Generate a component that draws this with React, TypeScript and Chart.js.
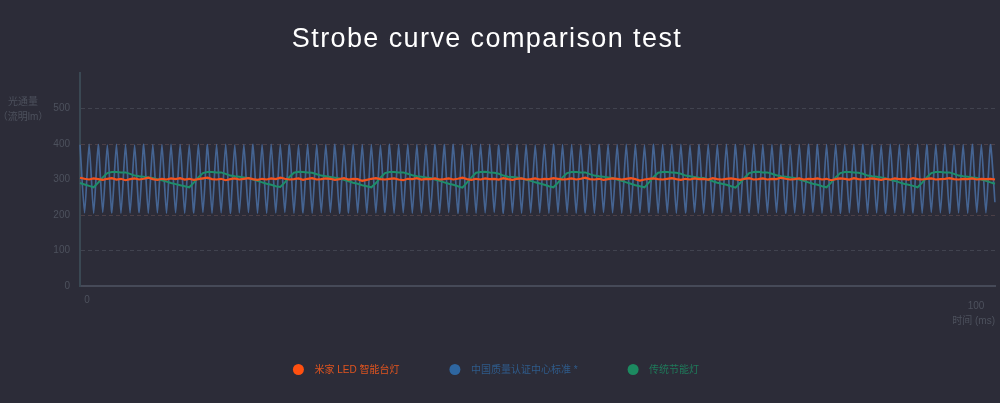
import React, { useEffect, useRef } from 'react';
import { Chart, registerables } from 'chart.js';

Chart.register(...registerables);

// ---------- text ----------
const TITLE = 'Strobe curve comparison test';
const Y_NAME = ['光通量', '（流明lm）'];
const X_NAME = '时间 (ms)';
const SERIES_NAMES = ['米家 LED 智能台灯', '中国质量认证中心标准 *', '传统节能灯'];

// ---------- ticks ----------
const X_TICKS = [0, 100];
const Y_TICKS = [0, 100, 200, 300, 400, 500];

// ---------- series (one sample every 0.5 ms) ----------
const MIJIA = [
  305, 302, 300, 303, 301, 299, 302, 304, 300, 302, 298, 301, 303, 300, 302, 305, 301, 299, 302, 300,
  303, 301, 304, 300, 302, 299, 301, 303, 305, 301, 300, 302, 298, 301, 303, 300, 302, 304, 301, 299,
  302, 300, 303, 301, 305, 302, 300, 301, 303, 299, 302, 304, 300, 301, 303, 302, 299, 301, 304, 300,
  302, 301, 296, 299, 302, 304, 301, 300, 302, 303, 300, 298, 302, 301, 304, 300, 302, 301, 303, 300,
  301, 303, 300, 302, 305, 301, 299, 302, 300, 303, 301, 302, 300, 304, 301, 299, 302, 303, 300, 301,
  303, 300, 302, 301, 304, 302, 300, 301, 303, 300, 302, 305, 301, 300, 302, 299, 301, 303, 302, 300,
  302, 304, 301, 297, 300, 302, 303, 301, 300, 302, 304, 301, 299, 302, 300, 303, 301, 302, 300, 304,
  301, 300, 302, 303, 301, 299, 302, 304, 300, 301, 303, 300, 302, 301, 305, 302, 300, 301, 303, 300,
  302, 301, 303, 300, 302, 298, 301, 303, 302, 300, 304, 301, 300, 302, 303, 301, 299, 302, 300, 303,
  301, 302, 300, 304, 301, 300, 302, 303, 300, 301, 302, 304, 301, 300, 302, 301, 303, 300, 302, 301,
  302, 300,
];

const CQC = [
  398, 206, 399, 205, 398, 207, 397, 206, 399, 205, 398, 206, 397, 207, 399, 205, 398, 206, 398, 205,
  399, 206, 398, 205, 397, 206, 399, 207, 398, 205, 398, 206, 399, 205, 397, 206, 398, 207, 399, 205,
  398, 205, 399, 206, 398, 207, 398, 205, 397, 206, 399, 205, 398, 206, 398, 207, 399, 205, 397, 206,
  399, 206, 398, 205, 398, 206, 397, 207, 399, 205, 398, 206, 399, 205, 398, 206, 397, 207, 398, 205,
  398, 207, 399, 205, 397, 206, 398, 205, 399, 206, 398, 207, 397, 205, 399, 206, 398, 205, 398, 206,
  397, 206, 398, 205, 399, 207, 398, 206, 398, 205, 397, 206, 399, 205, 398, 207, 399, 206, 398, 205,
  399, 205, 398, 206, 397, 207, 399, 205, 398, 206, 398, 205, 399, 206, 397, 207, 398, 205, 399, 206,
  398, 206, 399, 207, 398, 205, 397, 206, 399, 205, 398, 206, 398, 207, 399, 205, 397, 206, 398, 205,
  399, 207, 398, 205, 398, 206, 399, 205, 397, 206, 398, 207, 399, 205, 398, 206, 397, 205, 399, 206,
  398, 205, 397, 206, 399, 205, 398, 207, 398, 206, 399, 205, 397, 206, 398, 205, 399, 207, 398, 206,
  398, 236,
];

const CFL = [
  290, 286, 282,
  278, 291, 306, 318, 321, 321, 320, 320, 316, 311, 309, 308, 306, 304, 301, 298, 294, 290, 287, 284, 281,
  278, 291, 306, 318, 321, 321, 320, 320, 316, 311, 309, 308, 306, 304, 300, 296, 292, 288, 285, 281,
  279, 292, 307, 319, 322, 321, 320, 319, 315, 311, 309, 307, 305, 303, 299, 295, 291, 288, 284, 281,
  278, 290, 305, 318, 321, 321, 320, 320, 316, 312, 309, 308, 306, 304, 300, 296, 292, 288, 285, 281,
  277, 291, 306, 319, 321, 322, 320, 319, 316, 311, 308, 307, 306, 303, 300, 296, 292, 289, 285, 281,
  278, 291, 306, 318, 321, 321, 320, 320, 315, 311, 309, 308, 306, 304, 300, 296, 292, 288, 284, 281,
  278, 292, 307, 319, 321, 321, 320, 319, 316, 311, 309, 307, 305, 304, 300, 295, 291, 288, 285, 281,
  277, 290, 305, 318, 321, 322, 320, 320, 316, 312, 309, 308, 306, 304, 300, 296, 292, 288, 285, 281,
  278, 291, 306, 318, 321, 321, 320, 319, 316, 311, 309, 308, 306, 303, 299, 296, 292, 288, 285, 282,
  278, 291, 306, 318, 321, 321, 320, 320, 316, 311, 309, 308, 306, 304, 300, 296, 292, 288,
];

const SAMPLES = CQC.map((_, i) => String(i * 0.5));

// ---------- styles ----------
const BG = '#2c2c38';
const DIM = '#4d515d';
const LINE_COLORS = ['#f4521d', 'rgba(72,106,156,0.9)', '#1e8e6a'];
const DOT_COLORS = ['#ff5010', '#2e66a0', '#1c8a60'];
const LEGEND_TEXT = ['#e0541f', '#2f5b8a', '#1f7a5a'];
const LATIN = '"Liberation Sans", Arial, Helvetica, sans-serif';
const CJK = '"Liberation Sans", "Noto Sans CJK SC", sans-serif';

const overlayPlugin = {
  id: 'overlay',
  afterDraw(chart: any) {
    const ctx = chart.ctx as CanvasRenderingContext2D;
    ctx.save();
    // title
    ctx.font = `27px ${LATIN}`;
    ctx.fillStyle = '#ffffff';
    ctx.textAlign = 'center';
    ctx.textBaseline = 'alphabetic';
    (ctx as any).letterSpacing = '1.4px';
    ctx.fillText(TITLE, 487, 47);
    (ctx as any).letterSpacing = '0px';

    // y axis name
    ctx.font = `10px ${CJK}`;
    ctx.fillStyle = DIM;
    ctx.textBaseline = 'middle';
    ctx.textAlign = 'center';
    Y_NAME.forEach((line, i) => ctx.fillText(line, 23, 102 + i * 15));

    // legend
    const ds = chart.data.datasets;
    const r = 5.5;
    const textOff = 16;
    const gap = 50;
    const widths = ds.map((d: any) => ctx.measureText(d.label).width);
    const total = widths.reduce((s: number, w: number) => s + r + textOff + w, 0) + gap * (ds.length - 1);
    let x = 496 - total / 2;
    const y = 369.5;
    ctx.textAlign = 'left';
    ds.forEach((d: any, i: number) => {
      const cx = x + r;
      ctx.beginPath();
      ctx.arc(cx, y, r, 0, Math.PI * 2);
      ctx.fillStyle = DOT_COLORS[i];
      ctx.fill();
      ctx.fillStyle = LEGEND_TEXT[i];
      ctx.fillText(d.label, cx + textOff, y + 0.5);
      x = cx + textOff + widths[i] + gap;
    });
    ctx.restore();
  },
};

const gridColor = (v: number) => {
  if (v === 0) return 'rgba(0,0,0,0)';
  if (v === 200 || v === 400) return '#4b3f46';
  return '#41434f';
};

export default function App() {
  const ref = useRef<HTMLCanvasElement | null>(null);

  useEffect(() => {
    document.body.style.margin = '0';
    document.body.style.background = BG;
    const canvas = ref.current;
    if (!canvas) return;
    const series = [MIJIA, CQC, CFL];
    const chart = new Chart(canvas, {
      type: 'line',
      data: {
        labels: SAMPLES,
        datasets: series.map((data, i) => ({
          label: SERIES_NAMES[i],
          data,
          borderColor: LINE_COLORS[i],
          backgroundColor: LINE_COLORS[i],
          borderWidth: i === 0 ? 2.2 : i === 1 ? 1.7 : 2,
          pointRadius: 0,
          tension: i === 1 ? 0.2 : 0,
          fill: false,
          order: i === 0 ? 0 : i === 1 ? 2 : 1,
          xAxisID: 'x',
          yAxisID: 'y',
        })),
      },
      options: {
        responsive: false,
        animation: false,
        devicePixelRatio: 1,
        events: [],
        layout: { padding: { top: 73, right: 5, left: 0, bottom: 0 } },
        plugins: {
          legend: { display: false },
          title: { display: false },
          tooltip: { enabled: false },
        },
        scales: {
          x: {
            type: 'category',
            display: false,
            offset: false,
          },
          xt: {
            type: 'linear',
            position: 'bottom',
            min: -0.787,
            max: 102.13,
            afterBuildTicks: (s: any) => {
              s.ticks = X_TICKS.map((v) => ({ value: v }));
            },
            afterFit: (s: any) => {
              s.height = 117;
            },
            grid: { display: false, drawTicks: false },
            border: { display: true, color: '#464a58', width: 2 },
            ticks: {
              padding: 8,
              color: DIM,
              autoSkip: false,
              maxRotation: 0,
              font: (c: any) => ({
                family: LATIN,
                size: 10,
                lineHeight: c.tick && c.tick.value === 100 ? 2.5 : 1.2,
              }),
              callback: (v: any) => String(v),
            },
            title: {
              display: true,
              text: X_NAME,
              align: 'end',
              color: DIM,
              font: { family: CJK, size: 10, lineHeight: 1.2 },
              padding: { top: 0, bottom: 76 },
            },
          },
          y: {
            type: 'linear',
            min: 0,
            max: 600,
            afterBuildTicks: (s: any) => {
              s.ticks = Y_TICKS.map((v) => ({ value: v }));
            },
            afterFit: (s: any) => {
              s.width = 80;
            },
            grid: {
              drawTicks: false,
              lineWidth: 1,
              color: (c: any) => gridColor(c.tick ? c.tick.value : 0),
            },
            border: { display: true, color: '#3a4853', width: 2, dash: [4, 3] },
            ticks: {
              padding: 10,
              color: DIM,
              font: { family: LATIN, size: 10 },
              callback: (v: any) => String(v),
            },
          },
        },
      } as any,
      plugins: [overlayPlugin],
    });
    return () => chart.destroy();
  }, []);

  return (
    <div style={{ position: 'fixed', left: 0, top: 0, width: 1000, height: 403, background: BG }}>
      <canvas ref={ref} width={1000} height={403} style={{ display: 'block' }} />
    </div>
  );
}
